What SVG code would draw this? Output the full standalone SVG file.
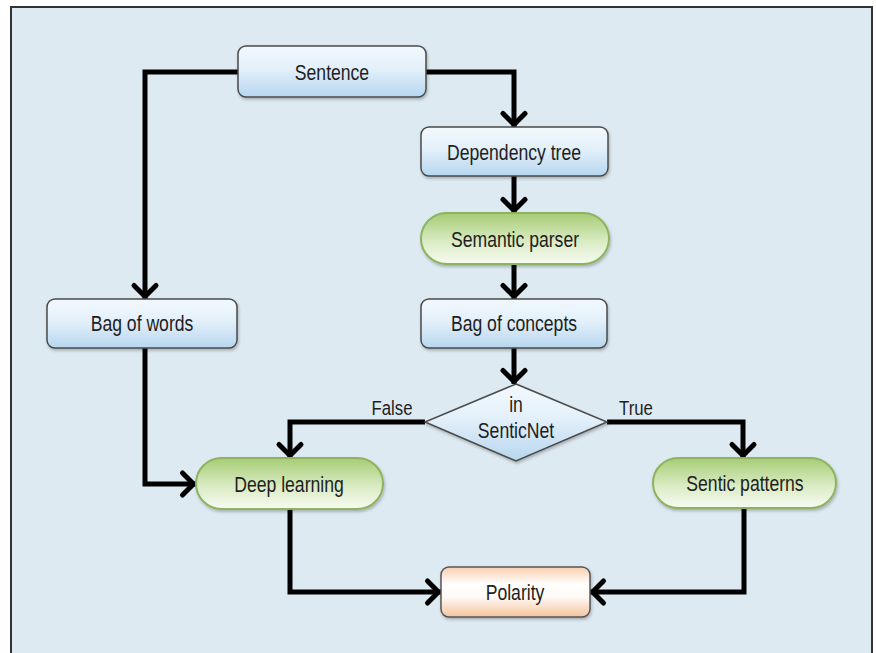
<svg xmlns="http://www.w3.org/2000/svg" width="876" height="653" viewBox="0 0 876 653">
<defs>
  <linearGradient id="gBlue" x1="0" y1="0" x2="0" y2="1">
    <stop offset="0" stop-color="#f3f9fd"/>
    <stop offset="0.45" stop-color="#e3f0fa"/>
    <stop offset="1" stop-color="#b7d6ef"/>
  </linearGradient>
  <linearGradient id="gGreen" x1="0" y1="0" x2="0" y2="1">
    <stop offset="0" stop-color="#a6cc74"/>
    <stop offset="0.55" stop-color="#d9ebc3"/>
    <stop offset="1" stop-color="#f7fbf1"/>
  </linearGradient>
  <linearGradient id="gPeach" x1="0" y1="0" x2="0" y2="1">
    <stop offset="0" stop-color="#f8cfae"/>
    <stop offset="0.35" stop-color="#ffffff"/>
    <stop offset="0.6" stop-color="#fffaf6"/>
    <stop offset="1" stop-color="#f6c39c"/>
  </linearGradient>
  <filter id="sh" x="-10%" y="-20%" width="120%" height="150%">
    <feDropShadow dx="1" dy="2" stdDeviation="1.5" flood-color="#000" flood-opacity="0.25"/>
  </filter>
  <marker id="arr" markerUnits="userSpaceOnUse" markerWidth="40" markerHeight="40" viewBox="-20 -20 40 40" refX="2.5" refY="0" orient="auto" overflow="visible">
    <path d="M-11,-11 L0,0 L-11,11" fill="none" stroke="#000" stroke-width="5" stroke-linejoin="round" stroke-linecap="round"/>
  </marker>
</defs>
<style>
  .box { fill: url(#gBlue); stroke: #4a4a4a; stroke-width: 1.5; filter: url(#sh); }
  .pill { fill: url(#gGreen); stroke: #8db35e; stroke-width: 2; filter: url(#sh); }
  .out { fill: url(#gPeach); stroke: #555; stroke-width: 1.5; filter: url(#sh); }
  .t { font-family: "Liberation Sans", Arial, sans-serif; font-size: 22px; fill: #1e1e1e; text-anchor: middle; }
  .lbl { font-family: "Liberation Sans", Arial, sans-serif; font-size: 21px; fill: #1e1e1e; text-anchor: middle; }
  .c { fill: none; stroke: #000; stroke-width: 5; stroke-linejoin: miter; marker-end: url(#arr); }
</style>
<rect x="0" y="0" width="876" height="653" fill="#ffffff"/>
<rect x="11" y="7" width="861" height="670" fill="#deeaf2" stroke="#333" stroke-width="2"/>

<g id="connectors">
  <path class="c" d="M238,72 H145 V299"/>
  <path class="c" d="M426,72 H514 V127"/>
  <path class="c" d="M514,176 V213"/>
  <path class="c" d="M514,264 V299"/>
  <path class="c" d="M514,348 V384"/>
  <path class="c" d="M425,422 H290 V458"/>
  <path class="c" d="M607,422 H743 V458"/>
  <path class="c" d="M145,348 V484 H196"/>
  <path class="c" d="M290,509 V592 H441"/>
  <path class="c" d="M744,508 V592 H590"/>
  <text class="lbl" transform="translate(392,415) scale(0.8,1)">False</text>
  <text class="lbl" transform="translate(636,415) scale(0.8,1)">True</text>
</g>

<g id="sentence">
  <rect class="box" x="238" y="46" width="188" height="51" rx="8"/>
  <text class="t" transform="translate(332,80) scale(0.8,1)">Sentence</text>
</g>
<g id="dependency-tree">
  <rect class="box" x="421" y="127" width="187" height="49" rx="8"/>
  <text class="t" transform="translate(514,159.5) scale(0.8,1)">Dependency tree</text>
</g>
<g id="semantic-parser">
  <rect class="pill" x="421" y="213" width="188" height="51" rx="25.5"/>
  <text class="t" transform="translate(515,246.5) scale(0.8,1)">Semantic parser</text>
</g>
<g id="bag-of-concepts">
  <rect class="box" x="421" y="299" width="186" height="49" rx="8"/>
  <text class="t" transform="translate(514,331) scale(0.8,1)">Bag of concepts</text>
</g>
<g id="bag-of-words">
  <rect class="box" x="47" y="299" width="190" height="49" rx="8"/>
  <text class="t" transform="translate(142,331) scale(0.8,1)">Bag of words</text>
</g>
<g id="in-senticnet">
  <polygon class="box" points="516,384 607,422 516,461 425,422"/>
  <text class="t" transform="translate(516,412) scale(0.8,1)">in</text>
  <text class="t" transform="translate(516,438) scale(0.8,1)">SenticNet</text>
</g>
<g id="deep-learning">
  <rect class="pill" x="196" y="458" width="187" height="51" rx="25.5"/>
  <text class="t" transform="translate(289,491.5) scale(0.8,1)">Deep learning</text>
</g>
<g id="sentic-patterns">
  <rect class="pill" x="653" y="458" width="183" height="50" rx="25"/>
  <text class="t" transform="translate(745,491) scale(0.8,1)">Sentic patterns</text>
</g>
<g id="polarity">
  <rect class="out" x="441" y="567" width="149" height="50" rx="8"/>
  <text class="t" transform="translate(515,599.5) scale(0.8,1)">Polarity</text>
</g>
</svg>
